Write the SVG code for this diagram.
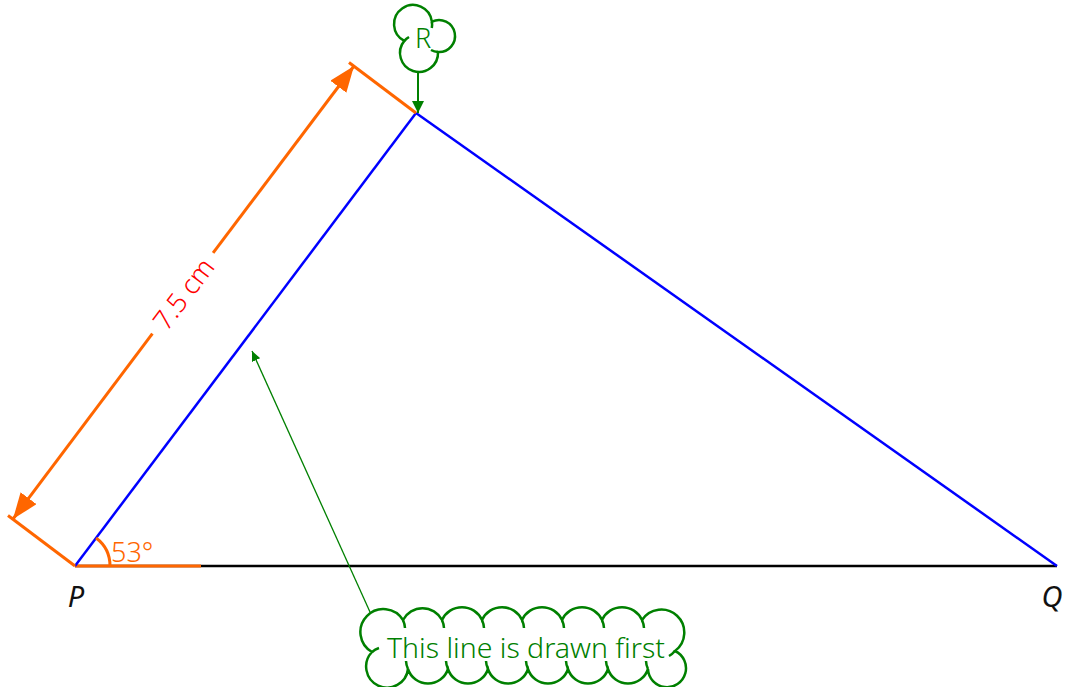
<svg xmlns="http://www.w3.org/2000/svg" width="1065" height="687" viewBox="0 0 1065 687">
<style>
.t{font-family:"Noto Sans","Open Sans",sans-serif;font-weight:300}
.lbl{font-family:"Noto Sans","Liberation Sans",sans-serif;font-style:italic;font-size:29px;fill:#111}
.orange{stroke:#ff6600;stroke-width:3;fill:none}
.green{stroke:#008000;fill:none}
</style>
<defs>
<marker id="ah" markerWidth="26" markerHeight="20" refX="26" refY="10" orient="auto-start-reverse" markerUnits="userSpaceOnUse">
<path d="M0,0 L26,10 L0,20 Z" fill="#ff6600"/>
</marker>
<marker id="gh" markerWidth="12" markerHeight="12" refX="12" refY="6" orient="auto" markerUnits="userSpaceOnUse">
<path d="M0,0 L12,6 L0,12 Z" fill="#008000"/>
</marker>
<marker id="gs" markerWidth="10" markerHeight="9" refX="10" refY="4.5" orient="auto" markerUnits="userSpaceOnUse">
<path d="M0,0 L10,4.5 L0,9 Z" fill="#008000"/>
</marker>
</defs>
<rect width="1065" height="687" fill="#fff"/>
<g id="connectors">
<line x1="75" y1="566" x2="1057" y2="566" stroke="#000" stroke-width="2.5"/>
<line x1="75" y1="566" x2="201" y2="566" stroke="#ff6600" stroke-width="3"/>
<line x1="75" y1="566" x2="416" y2="113" stroke="#0000ff" stroke-width="2.5"/>
<line x1="416" y1="113" x2="1057" y2="566" stroke="#0000ff" stroke-width="2.5"/>
<line class="orange" x1="75" y1="566" x2="8" y2="515.5"/>
<line class="orange" x1="416" y1="113" x2="349" y2="62.5"/>
<line class="orange" x1="152.4" y1="333.6" x2="13" y2="519" marker-end="url(#ah)"/>
<line class="orange" x1="213.1" y1="252.9" x2="354" y2="66" marker-end="url(#ah)"/>
<path class="orange" d="M110,566 A35,35 0 0 0 96.1,538"/>
<line class="green" stroke-width="2" x1="418" y1="72" x2="418" y2="113" marker-end="url(#gh)"/>
<line class="green" stroke-width="1.3" x1="370" y1="612" x2="252" y2="351" marker-end="url(#gs)"/>
</g>
<g id="dimension-label">
<text class="t" x="0" y="0" font-size="27" fill="#ff0000" text-anchor="middle" dominant-baseline="central" transform="translate(182.8,293.3) rotate(-53)">7.5 cm</text>
</g>
<g id="angle-label">
<text class="t" x="111" y="562" font-size="27" fill="#ff6600">53°</text>
</g>
<g id="P"><text class="lbl" x="76" y="607" text-anchor="middle">P</text></g>
<g id="Q"><text class="lbl" x="1052" y="607" text-anchor="middle">Q</text></g>
<g id="R">
<path class="green" stroke-width="2.5" fill="#fff" d="M404.3,40.9 A19,19 0 1 1 431.9,21.7 A16,16 0 1 1 438,52 A19,19 0 1 1 404.3,40.9 Z"/>
<path class="green" stroke-width="2.5" d="M404.3,40.9 A19,19 0 0 1 409,37 M431.9,21.7 A19,19 0 0 1 431.8,28 M438,52 A16,16 0 0 1 431,50"/>
<text class="t" x="423" y="48" font-size="27" fill="#008000" text-anchor="middle">R</text>
</g>
<g id="note">
<path class="green" stroke-width="2.5" fill="#fff" d="M372,652 A23,23 0 1 1 403,620 A22,22 0 0 1 442,620 A22,22 0 0 1 482,620 A22,22 0 0 1 522,620 A22,22 0 0 1 562,620 A22,22 0 0 1 602,620 A22,22 0 0 1 642,620 A23,23 0 1 1 675,651 A19,19 0 1 1 648,669 A21,21 0 0 1 608,669 A21,21 0 0 1 568,669 A21,21 0 0 1 528,669 A21,21 0 0 1 488,669 A21,21 0 0 1 448,669 A21,21 0 0 1 408,669 A21,21 0 1 1 372,652 Z"/>
<path class="green" stroke-width="2.5" d="M403,620 A23,23 0 0 1 405,628 M442,620 A22,22 0 0 1 444,628 M482,620 A22,22 0 0 1 484,628 M522,620 A22,22 0 0 1 524,628 M562,620 A22,22 0 0 1 564,628 M602,620 A22,22 0 0 1 604,628 M642,620 A22,22 0 0 1 644,628 M675,651 A23,23 0 0 1 669,656 M648,669 A19,19 0 0 1 646,661 M608,669 A21,21 0 0 1 606,661 M568,669 A21,21 0 0 1 566,661 M528,669 A21,21 0 0 1 526,661 M488,669 A21,21 0 0 1 486,661 M448,669 A21,21 0 0 1 446,661 M408,669 A21,21 0 0 1 406,661 M372,652 A21,21 0 0 1 379,648"/>
<text class="t" x="526" y="658" font-size="27" fill="#008000" text-anchor="middle" textLength="278" lengthAdjust="spacingAndGlyphs">This line is drawn first</text>
</g>
</svg>
